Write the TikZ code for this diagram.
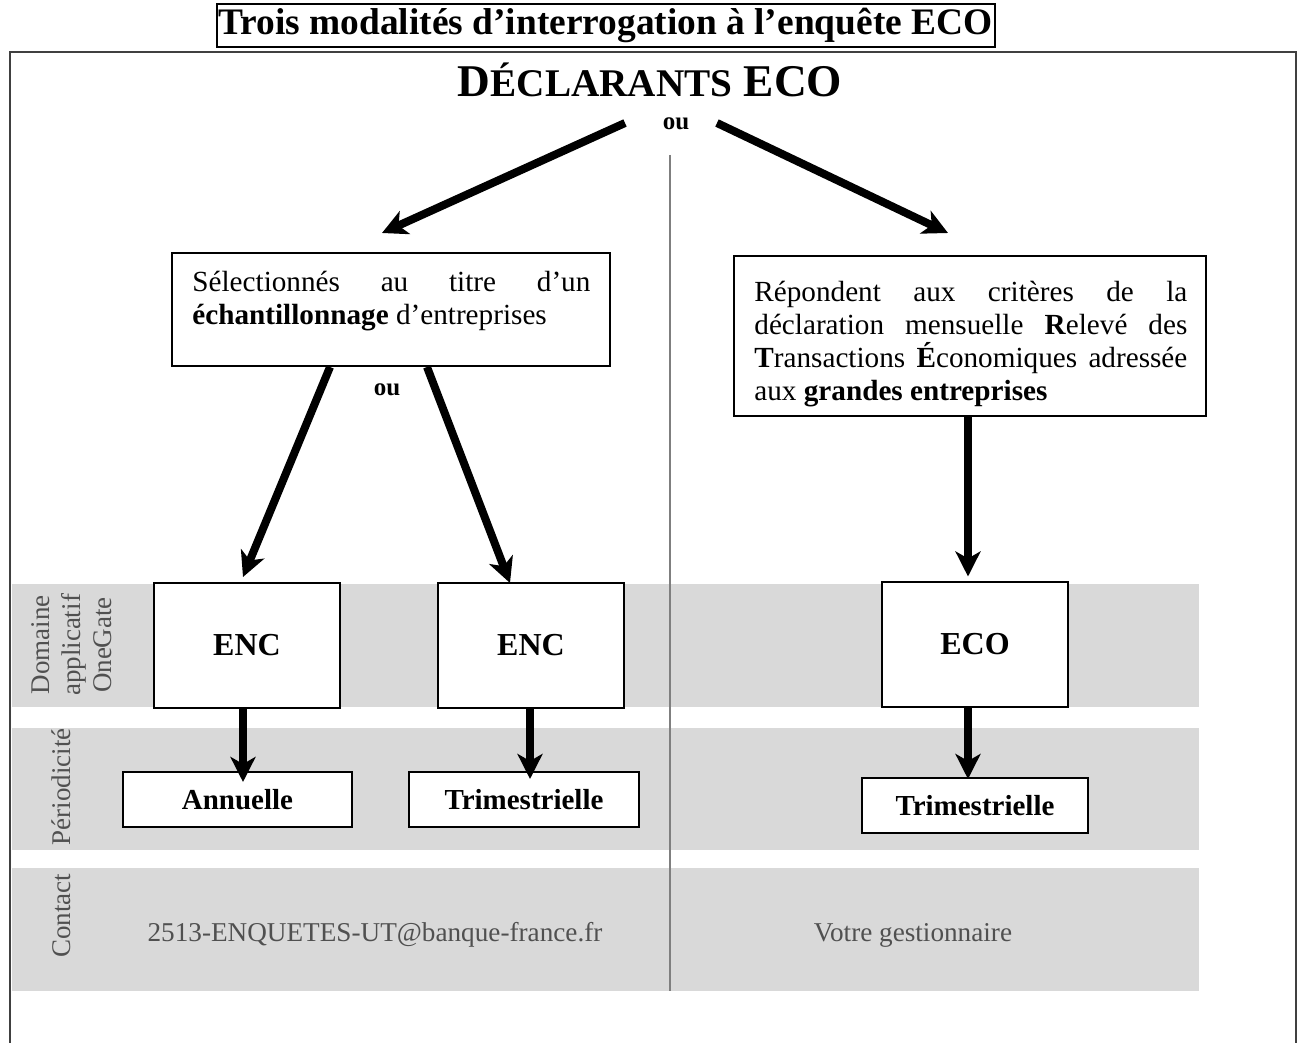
\documentclass[tikz,border=0pt]{standalone}
\usepackage{fontspec}
\setmainfont{Liberation Serif}
\usetikzlibrary{arrows.meta}
\definecolor{bandgray}{HTML}{D9D9D9}
\definecolor{lblgray}{HTML}{505050}
\definecolor{framegray}{HTML}{404040}
\definecolor{divgray}{HTML}{7F7F7F}
\begin{document}
\begin{tikzpicture}[x=0.5pt,y=-0.5pt,
  box/.style={draw=black, line width=1pt, fill=white, inner sep=0pt},
  arr/.style={line width=4pt, -{Stealth[length=12.5pt,width=12.5pt,inset=3.5pt]}},
  graytext/.style={text=lblgray, font=\fontsize{13.6}{16}\selectfont, inner sep=0pt},
  sidelabel/.style={text=lblgray, font=\fontsize{13.5}{15.5}\selectfont, rotate=90, align=center, inner sep=0pt},
  bodytext/.style={anchor=base west, inner sep=0pt, font=\fontsize{14.6}{16.5}\selectfont},
  encbox/.style={box, minimum width=93pt, minimum height=62.5pt, font=\bfseries\fontsize{16}{18}\selectfont},
  perbox/.style={box, minimum height=27.5pt, font=\bfseries\fontsize{14.5}{16}\selectfont},
  outext/.style={font=\bfseries\fontsize{12.5}{14}\selectfont, inner sep=0pt}
]
\useasboundingbox (0,0) rectangle (1300,1043);

% bands
\fill[bandgray] (12,584) rectangle (1199,707);
\fill[bandgray] (12,728) rectangle (1199,850);
\fill[bandgray] (12,868) rectangle (1199,991);

% outer frame
\draw[framegray, line width=1pt] (10,1060) -- (10,52) -- (1296,52) -- (1296,1060);

% divider
\draw[divgray, line width=1pt] (670,155) -- (670,991);

% title
\node[draw=black, line width=1pt, minimum width=389pt, minimum height=21.5pt, inner sep=0pt,
      font=\bfseries\fontsize{18.7}{20}\selectfont] (title) at (605.5,25.5)
      {Trois modalités d’interrogation à l’enquête ECO};

\node[anchor=base, inner sep=0pt, font=\bfseries] (decl) at (650,97)
  {\fontsize{22.7}{24}\selectfont D\fontsize{19.6}{20}\selectfont ÉCLARANTS\fontsize{22.7}{24}\selectfont{} ECO};
\node[outext] (ou1) at (676,124) {ou};

% boxes
\node[box, minimum width=219pt, minimum height=56.5pt] (sel) at (391,309.5) {};
\node[bodytext] (seltxt) at (192,292) {\parbox[t]{199pt}{Sélectionnés\hfill au\hfill titre\hfill d’un\\
\textbf{échantillonnage} d’entreprises}};

\node[box, minimum width=236pt, minimum height=80pt] (rep) at (970,336) {};
\node[bodytext] (reptxt) at (754,301) {\parbox[t]{216.5pt}{Répondent\hfill aux\hfill critères\hfill de\hfill la\\
déclaration\hfill mensuelle\hfill \textbf{R}elevé\hfill des\\
\textbf{T}ransactions\hfill \textbf{É}conomiques\hfill adressée\\
aux \textbf{grandes entreprises}}};

\node[outext] (ou2) at (387,390) {ou};

\node[encbox] (enc1) at (247,645.5) {ENC};
\node[encbox] (enc2) at (531,645.5) {ENC};
\node[encbox] (eco) at (975,644) {ECO};

\node[perbox, minimum width=114.5pt] (ann) at (237.5,799.5) {Annuelle};
\node[perbox, minimum width=115pt] (tri1) at (524,799.5) {Trimestrielle};
\node[perbox, minimum width=113pt] (tri2) at (975,805.5) {Trimestrielle};

% side labels
\node[sidelabel] (lab1) at (72,645) {Domaine\\applicatif\\OneGate};
\node[sidelabel] (lab2) at (61,787) {Périodicité};
\node[sidelabel] (lab3) at (62,916) {Contact};

% contacts
\node[graytext] (mail) at (375,935) {2513-ENQUETES-UT@banque-france.fr};
\node[graytext] (gest) at (913,935) {Votre gestionnaire};

% arrows
\coordinate (a1s) at (625,123); \coordinate (a1e) at (382,233);
\coordinate (a2s) at (717,123); \coordinate (a2e) at (948,233);
\draw[arr] (a1s) -- (a1e);
\draw[arr] (a2s) -- (a2e);

\coordinate (b1s) at (330,367); \coordinate (b1e) at (243,577);
\coordinate (b2s) at (427,367); \coordinate (b2e) at (510,583);
\draw[arr] (b1s) -- (b1e);
\draw[arr] (b2s) -- (b2e);

\draw[arr] ([xshift=-1pt]rep.south) -- ([xshift=-1pt,yshift=2pt]rep.south |- eco.north);

\draw[arr] ([xshift=-2pt]enc1.south) -- ([xshift=-2pt,yshift=-5.5pt]enc1.south |- ann.north);
\draw[arr] ([xshift=-0.5pt]enc2.south) -- ([xshift=-0.5pt,yshift=-4pt]enc2.south |- tri1.north);
\draw[arr] ([xshift=-3.5pt]eco.south) -- ([xshift=-3.5pt,yshift=-1pt]eco.south |- tri2.north);
\end{tikzpicture}
\end{document}
